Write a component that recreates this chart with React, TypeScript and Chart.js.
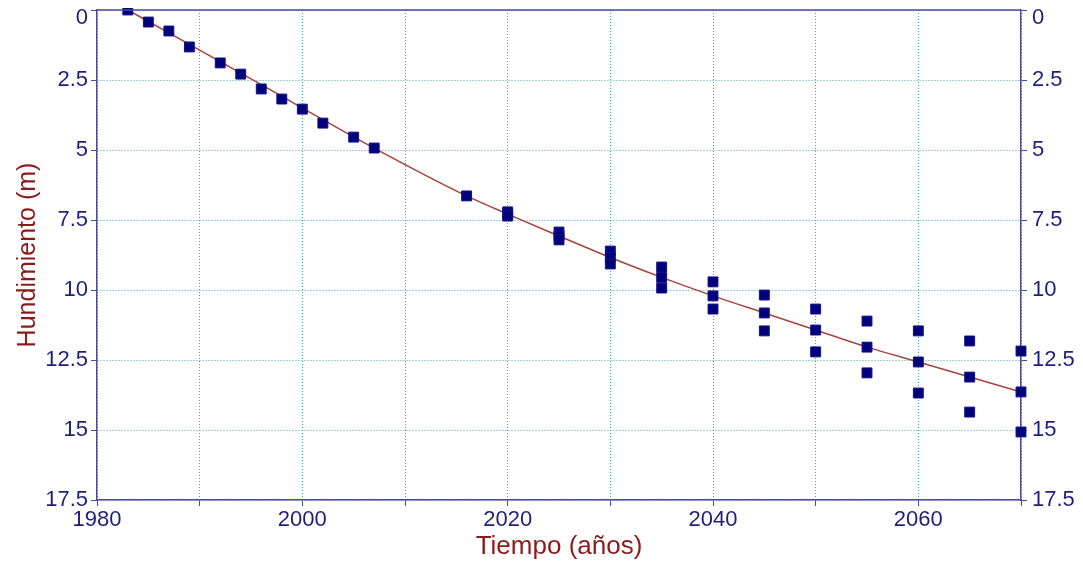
import React, { useEffect, useRef } from "react";
import { Chart, registerables } from "chart.js";

Chart.register(...registerables);

// Observed / projected subsidence (m)
const obsYears = [
  1983, 1985, 1987, 1989, 1992, 1994, 1996, 1998, 2000, 2002, 2005, 2007, 2016,
  2020, 2020, 2020, 2025, 2025, 2025, 2030, 2030, 2030, 2035, 2035, 2035,
  2040, 2040, 2040, 2045, 2045, 2045, 2050, 2050, 2050, 2055, 2055, 2055,
  2060, 2060, 2060, 2065, 2065, 2065, 2070, 2070, 2070,
];
const obsDepths = [
  0, 0.43, 0.75, 1.32, 1.89, 2.29, 2.82, 3.18, 3.54, 4.04, 4.54, 4.93, 6.64,
  7.21, 7.29, 7.36, 7.93, 8.07, 8.21, 8.61, 8.84, 9.07, 9.18, 9.55, 9.93,
  9.71, 10.21, 10.68, 10.18, 10.82, 11.46, 10.68, 11.43, 12.21, 11.11, 12.04, 12.96,
  11.46, 12.57, 13.68, 11.82, 13.11, 14.36, 12.18, 13.64, 15.07,
];

// Fitted trend line
const fitYears = [1983, 1995, 2007, 2016, 2020, 2025, 2030, 2035, 2040, 2045, 2050, 2055, 2060, 2065, 2070];
const fitDepths = [0, 2.46, 4.93, 6.64, 7.29, 8.07, 8.84, 9.55, 10.21, 10.82, 11.43, 12.04, 12.57, 13.11, 13.64];

const xMin = 1980;
const xMax = 2070;
const yMin = 0;
const yMax = 17.5;

const AXIS = "#4b4b9e";
const TICK = "#1f1f7a";
const TITLE = "#8b1a1a";
const GRID = "#3fa8a8";
const FONT = "Liberation Sans, Arial, sans-serif";

// keep the top "0" label inside the frame (drawn just below its tick, as in the original)
const yLabel = (v: any) => (Number(v) === yMin ? ["", String(v)] : String(v));

export default function App() {
  const ref = useRef<HTMLCanvasElement | null>(null);

  useEffect(() => {
    if (!ref.current) return;
    const frame = {
      id: "frame",
      afterDatasetsDraw(chart: any) {
        const { ctx, chartArea } = chart;
        ctx.save();
        ctx.strokeStyle = AXIS;
        ctx.lineWidth = 1.5;
        ctx.beginPath();
        ctx.moveTo(chartArea.left, chartArea.top);
        ctx.lineTo(chartArea.right, chartArea.top);
        ctx.stroke();
        ctx.restore();
      },
    };
    const zeroPad = (s: any) => {
      s.paddingTop = 0;
      s.paddingBottom = 0;
      s.paddingLeft = 0;
      s.paddingRight = 0;
    };
    const chart = new Chart(ref.current, {
      type: "scatter",
      data: {
        datasets: [
          {
            type: "line",
            data: fitYears.map((x, i) => ({ x, y: fitDepths[i] })),
            borderColor: "#a8443c",
            borderWidth: 1.5,
            pointRadius: 0,
            cubicInterpolationMode: "monotone",
            fill: false,
            clip: false as any,
            order: 2,
          } as any,
          {
            type: "scatter",
            data: obsYears.map((x, i) => ({ x, y: obsDepths[i] })),
            pointStyle: "rect",
            pointRadius: 7,
            backgroundColor: "#00007a",
            borderColor: "#12128a",
            borderWidth: 1,
            clip: false as any,
            order: 1,
          } as any,
        ],
      },
      options: {
        animation: false,
        responsive: false,
        maintainAspectRatio: false,
        layout: { autoPadding: false, padding: { top: 2, right: 0, bottom: 0, left: 0 } },
        plugins: { legend: { display: false }, tooltip: { enabled: false } },
        scales: {
          x: {
            type: "linear",
            min: xMin,
            max: xMax,
            afterFit: (s: any) => {
              s.height = 63;
              zeroPad(s);
            },
            ticks: {
              stepSize: 10,
              autoSkip: false,
              maxRotation: 0,
              padding: 1,
              color: TICK,
              font: { family: FONT, size: 22 },
              callback: (v: any) => (Number(v) % 20 === 0 ? String(v) : ""),
            },
            grid: {
              color: GRID,
              lineWidth: 1,
              tickColor: AXIS,
              tickLength: 6,
            },
            border: { color: AXIS, width: 1.5, dash: [1, 2] },
            title: {
              display: true,
              text: "Tiempo (años)",
              color: TITLE,
              font: { family: FONT, size: 26 },
              padding: { top: 0, bottom: 1 },
            },
          },
          y: {
            type: "linear",
            position: "left",
            reverse: true,
            min: yMin,
            max: yMax,
            afterFit: (s: any) => {
              s.width = 89;
              zeroPad(s);
            },
            ticks: {
              stepSize: 2.5,
              padding: 3,
              color: TICK,
              font: { family: FONT, size: 22, lineHeight: 0.7 },
              callback: yLabel,
            },
            grid: {
              color: GRID,
              lineWidth: 1,
              tickColor: AXIS,
              tickLength: 6,
            },
            border: { color: AXIS, width: 1.5, dash: [1, 2] },
            title: {
              display: true,
              text: "Hundimiento (m)",
              color: TITLE,
              font: { family: FONT, size: 25 },
              padding: { top: 5, bottom: 0 },
            },
          },
          y2: {
            type: "linear",
            position: "right",
            reverse: true,
            min: yMin,
            max: yMax,
            afterFit: (s: any) => {
              s.width = 54;
              zeroPad(s);
            },
            ticks: {
              stepSize: 2.5,
              padding: 5,
              color: TICK,
              font: { family: FONT, size: 22, lineHeight: 0.7 },
              callback: yLabel,
            },
            grid: {
              drawOnChartArea: false,
              tickColor: AXIS,
              tickLength: 6,
            },
            border: { color: AXIS, width: 1.5 },
          },
        },
      } as any,
      plugins: [frame],
    });
    return () => chart.destroy();
  }, []);

  return (
    <div style={{ width: 1067, height: 555 }}>
      <canvas ref={ref} width={1067} height={555} style={{ display: "block" }} />
    </div>
  );
}
